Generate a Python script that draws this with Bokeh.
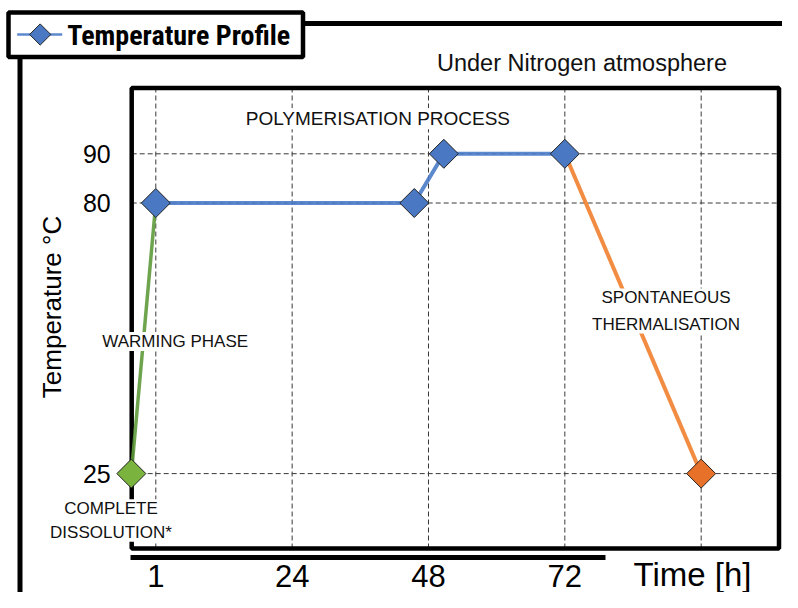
import numpy as np
from bokeh.plotting import figure
from bokeh.models import Range1d, LinearAxis, FixedTicker, Label
from bokeh.embed import file_html
from bokeh.resources import INLINE

# ---------------- data ----------------
temp_ticks = [25, 80, 90]                     # °C
time_ticks = [0, 24, 48, 72]                  # schematic time slots (axis not to scale)
time_tick_labels = ["1", "24", "48", "72"]
time_grid = [0, 24, 48, 72, 96]

warming_time = [-4.3, 0]
warming_temp = [25, 80]
polymer_time = [0, 45.5, 50.7, 72]
polymer_temp = [80, 80, 90, 90]
cooling_time = [72, 96]
cooling_temp = [90, 25]

series_name = "Temperature Profile"

# ---------------- layout calibration (canvas pixels -> data) ----------------
W, H = 782, 592
X0_PX, PX_PER_H = 155.3, 5.681     # canvas x of slot 0, px per hour-slot
Y90_PX, PX_PER_C = 153.3, 4.92     # canvas y of 90 °C, px per °C


def ux(px):
    return (px - X0_PX) / PX_PER_H


def vy(py):
    return 90 + (Y90_PX - py) / PX_PER_C


FONT = "Liberation Sans"
BLUE_LINE, BLUE_MARK = "#4A7BC8", "#4A78C2"

p = figure(width=W, height=H, output_backend="svg", toolbar_location=None,
           x_axis_type=None, y_axis_type=None,
           x_range=Range1d(ux(0), ux(W)), y_range=Range1d(vy(H), vy(0)),
           min_border=0, min_border_left=0, min_border_right=0,
           min_border_top=0, min_border_bottom=0)
p.outline_line_color = None
p.background_fill_color = "white"
p.border_fill_color = "white"

box_l, box_r, box_t, box_b = ux(131.2), ux(778.5), vy(87.5), vy(548)

# outer frame (top and left edges)
p.segment(x0=[ux(19.5), ux(19.5)], x1=[ux(W + 20), ux(19.5)],
          y0=[vy(23), vy(23)], y1=[vy(23), vy(H + 20)],
          line_color="black", line_width=5)

# dashed grid inside the plot box
p.segment(x0=time_grid, x1=time_grid, y0=[box_b] * len(time_grid), y1=[box_t] * len(time_grid),
          line_color="#3a3a3a", line_width=1, line_dash="5 3")
p.segment(x0=[box_l] * len(temp_ticks), x1=[box_r] * len(temp_ticks), y0=temp_ticks, y1=temp_ticks,
          line_color="#3a3a3a", line_width=1, line_dash="5 3")

# plot box
p.quad(left=[box_l], right=[box_r], top=[box_t], bottom=[box_b],
       fill_color=None, line_color="black", line_width=4.5)

# series lines
p.line(warming_time, warming_temp, line_color="#5E9A3A", line_width=3.5, line_alpha=0.9)
p.line(polymer_time, polymer_temp, line_color=BLUE_LINE, line_width=4, line_alpha=0.9)
p.line(cooling_time, cooling_temp, line_color="#F0802E", line_width=4, line_alpha=0.9)

# markers (diamonds = squares turned by 45°)
MS = 20.5
p.scatter([warming_time[0]], [warming_temp[0]], marker="square", angle=np.pi / 4, size=MS,
          fill_color="#7AB33E", line_color="#222222", line_width=1)
p.scatter(polymer_time, polymer_temp, marker="square", angle=np.pi / 4, size=MS,
          fill_color=BLUE_MARK, line_color="#222222", line_width=1)
p.scatter([cooling_time[-1]], [cooling_temp[-1]], marker="square", angle=np.pi / 4, size=MS,
          fill_color="#E8712A", line_color="#222222", line_width=1)

# ---- key box at top-left (series sample + name) ----
p.quad(left=[ux(8)], right=[ux(302.5)], top=[vy(12)], bottom=[vy(56.5)],
       fill_color="white", line_color="black", line_width=4.5)
p.segment(x0=[ux(16.7)], x1=[ux(61.7)], y0=[vy(34)], y1=[vy(34)],
          line_color=BLUE_LINE, line_width=2.5, line_alpha=0.9)
p.scatter([ux(39.7)], [vy(34)], marker="square", angle=np.pi / 4, size=15,
          fill_color=BLUE_MARK, line_color="#222222", line_width=1)
p.add_layout(Label(x=ux(66.7), y=vy(35), text=series_name, text_align="left",
                   text_baseline="middle",
                   text_font="Roboto Condensed, DejaVu Sans Condensed, Roboto",
                   text_font_style="bold", text_font_size="28px", text_color="black"))

# axes
yaxis = LinearAxis(fixed_location=box_l, ticker=FixedTicker(ticks=temp_ticks),
                   axis_line_color=None, major_tick_line_color=None, minor_tick_line_color=None,
                   major_tick_out=0, major_tick_in=0, major_label_standoff=21,
                   major_label_text_font_size="25px", major_label_text_font=FONT,
                   major_label_text_color="black")
p.add_layout(yaxis, "left")

xaxis = LinearAxis(fixed_location=vy(557), bounds=(ux(130), ux(605)),
                   ticker=FixedTicker(ticks=time_ticks),
                   major_label_overrides=dict(zip(time_ticks, time_tick_labels)),
                   axis_line_color="black", axis_line_width=5,
                   major_tick_line_color=None, minor_tick_line_color=None,
                   major_tick_out=0, major_tick_in=0, major_label_standoff=7,
                   major_label_text_font_size="31px", major_label_text_font=FONT,
                   major_label_text_color="black")
p.add_layout(xaxis, "below")

# axis titles
p.add_layout(Label(x=ux(51.7), y=vy(306.5), text="Temperature °C", angle=np.pi / 2,
                   text_align="center", text_baseline="middle", text_font=FONT,
                   text_font_size="26px", text_color="black"))
p.add_layout(Label(x=ux(692), y=vy(574), text="Time [h]", text_align="center",
                   text_baseline="middle", text_font=FONT, text_font_size="33px",
                   text_color="black"))

# annotations


def note(x_px, y_px, text, size, lh=1.2):
    p.add_layout(Label(x=ux(x_px), y=vy(y_px), text=text, text_align="center",
                       text_baseline="middle", text_font=FONT, text_font_size=size,
                       text_color="#111111", text_line_height=lh,
                       background_fill_color="white", background_fill_alpha=1.0))


note(581.5, 62.5, "Under Nitrogen atmosphere", "23.5px")
note(377.4, 118.3, "POLYMERISATION PROCESS", "19px")
note(174.7, 341, "WARMING PHASE", "17px")
note(665.5, 310.5, "SPONTANEOUS\nTHERMALISATION", "17px", 1.38)
note(110.5, 520, "COMPLETE\nDISSOLUTION*", "17px", 1.24)

open("out.html", "w").write(file_html(p, INLINE))
